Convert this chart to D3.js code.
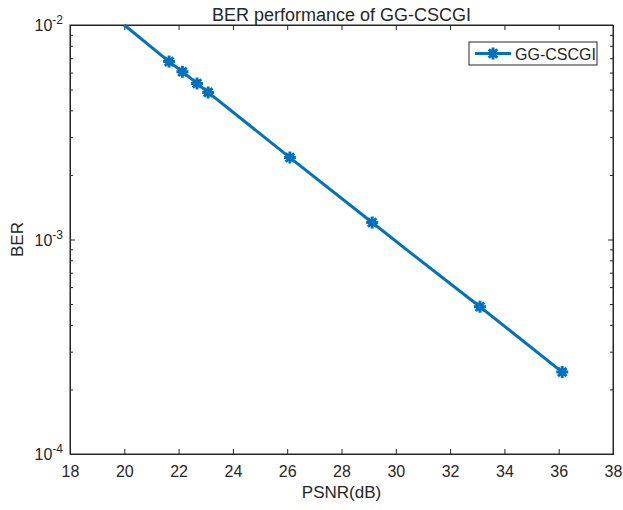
<!DOCTYPE html>
<html>
<head>
<meta charset="utf-8">
<script src="https://cdn.jsdelivr.net/npm/d3@7"></script>
<style>
  body { margin: 0; background: #fff; }
  text { font-family: "Liberation Sans", Arial, sans-serif; fill: #262626; }
</style>
</head>
<body>
<div id="chart"></div>
<script>
// données
const psnr = [20, 21.65, 22.14, 22.68, 23.09, 26.1, 29.13, 30.63, 33.1, 36.13];
const ber = [1.0e-2, 6.75e-3, 6.05e-3, 5.34e-3, 4.85e-3, 2.41e-3, 1.20e-3, 8.5e-4, 4.86e-4, 2.41e-4];
const withMarker = [false, true, true, true, true, true, true, false, true, true];
const xTicks = [18, 20, 22, 24, 26, 28, 30, 32, 34, 36, 38];
const yTicks = [1e-4, 1e-3, 1e-2];
const seriesName = "GG-CSCGI";

const W = 623, H = 510;
const margin = { top: 25, right: 10, bottom: 56, left: 70 },
    width = W - margin.left - margin.right,
    height = H - margin.top - margin.bottom;

const blue = "#0072BD", axisColor = "#262626";

const svg = d3.select("#chart").append("svg")
    .attr("width", W).attr("height", H);

const g = svg.append("g")
    .attr("transform", "translate(" + margin.left + "," + margin.top + ")");

const x = d3.scaleLinear().domain([18, 38]).range([0, width]);
const y = d3.scaleLog().domain([1e-4, 1e-2]).range([height, 0]);

// ticks mineurs log
let minor = [];
[1e-4, 1e-3].forEach(d => { for (let k = 2; k <= 9; k++) minor.push(d * k); });

// axes (ticks vers l'intérieur, façon MATLAB)
const tickLen = 5;
g.append("g").attr("transform", "translate(0," + height + ")")
    .call(d3.axisBottom(x).tickValues(xTicks).tickSize(-tickLen).tickPadding(12).tickFormat(d3.format("d")))
    .call(a => a.selectAll("text").attr("font-size", 16).attr("fill", axisColor));
g.append("g")
    .call(d3.axisTop(x).tickValues(xTicks).tickSize(-tickLen).tickFormat(""));
g.append("g")
    .call(d3.axisLeft(y).tickValues(yTicks).tickSize(-tickLen).tickFormat(""));
g.append("g").attr("transform", "translate(" + width + ",0)")
    .call(d3.axisRight(y).tickValues(yTicks).tickSize(-tickLen).tickFormat(""));
g.append("g")
    .call(d3.axisLeft(y).tickValues(minor).tickSize(-3).tickFormat(""));
g.append("g").attr("transform", "translate(" + width + ",0)")
    .call(d3.axisRight(y).tickValues(minor).tickSize(-3).tickFormat(""));

g.selectAll(".domain").attr("stroke", axisColor).attr("stroke-width", 1);
g.selectAll(".tick line").attr("stroke", axisColor).attr("stroke-width", 1);

// labels 10^n
yTicks.forEach(d => {
  const t = g.append("text")
      .attr("x", -7).attr("y", y(d) + 6)
      .attr("text-anchor", "end")
      .attr("font-size", 16);
  t.append("tspan").text("10");
  t.append("tspan").attr("dy", -7).attr("font-size", 12).text(Math.round(Math.log10(d)));
});

// cadre
g.append("rect").attr("width", width).attr("height", height)
    .attr("fill", "none").attr("stroke", axisColor).attr("stroke-width", 1);

// courbe
const pts = psnr.map((p, i) => ({ x: p, y: ber[i], m: withMarker[i] }));
g.append("path")
    .datum(pts)
    .attr("fill", "none")
    .attr("stroke", blue)
    .attr("stroke-width", 3)
    .attr("d", d3.line().x(d => x(d.x)).y(d => y(d.y)));

function asterisk(r) {
  const a = r * Math.SQRT1_2;
  return "M" + (-r) + ",0L" + r + ",0M0," + (-r) + "L0," + r +
         "M" + (-a) + "," + (-a) + "L" + a + "," + a +
         "M" + (-a) + "," + a + "L" + a + "," + (-a);
}

g.selectAll(".mk")
    .data(pts.filter(d => d.m))
    .enter().append("path")
    .attr("class", "mk")
    .attr("transform", d => "translate(" + x(d.x) + "," + y(d.y) + ")")
    .attr("d", asterisk(6))
    .attr("stroke", blue).attr("stroke-width", 3).attr("fill", "none");

// légende
const lg = g.append("g").attr("transform", "translate(" + (469 - margin.left) + "," + (42 - margin.top) + ")");
lg.append("rect").attr("width", 128).attr("height", 23)
    .attr("fill", "#fff").attr("stroke", axisColor).attr("stroke-width", 1);
lg.append("line").attr("x1", 6).attr("x2", 42).attr("y1", 11.5).attr("y2", 11.5)
    .attr("stroke", blue).attr("stroke-width", 3);
lg.append("path").attr("transform", "translate(24,11.5)").attr("d", asterisk(6))
    .attr("stroke", blue).attr("stroke-width", 3).attr("fill", "none");
lg.append("text").attr("x", 46).attr("y", 17.5).attr("font-size", 16).text(seriesName);

// titres
svg.append("text").attr("x", margin.left + width / 2).attr("y", 21)
    .attr("text-anchor", "middle").attr("font-size", 18)
    .text("BER performance of GG-CSCGI");
svg.append("text").attr("x", margin.left + width / 2).attr("y", 498)
    .attr("text-anchor", "middle").attr("font-size", 17)
    .text("PSNR(dB)");
svg.append("text")
    .attr("transform", "translate(23," + (margin.top + height / 2) + ") rotate(-90)")
    .attr("text-anchor", "middle").attr("font-size", 17)
    .text("BER");
</script>
</body>
</html>
